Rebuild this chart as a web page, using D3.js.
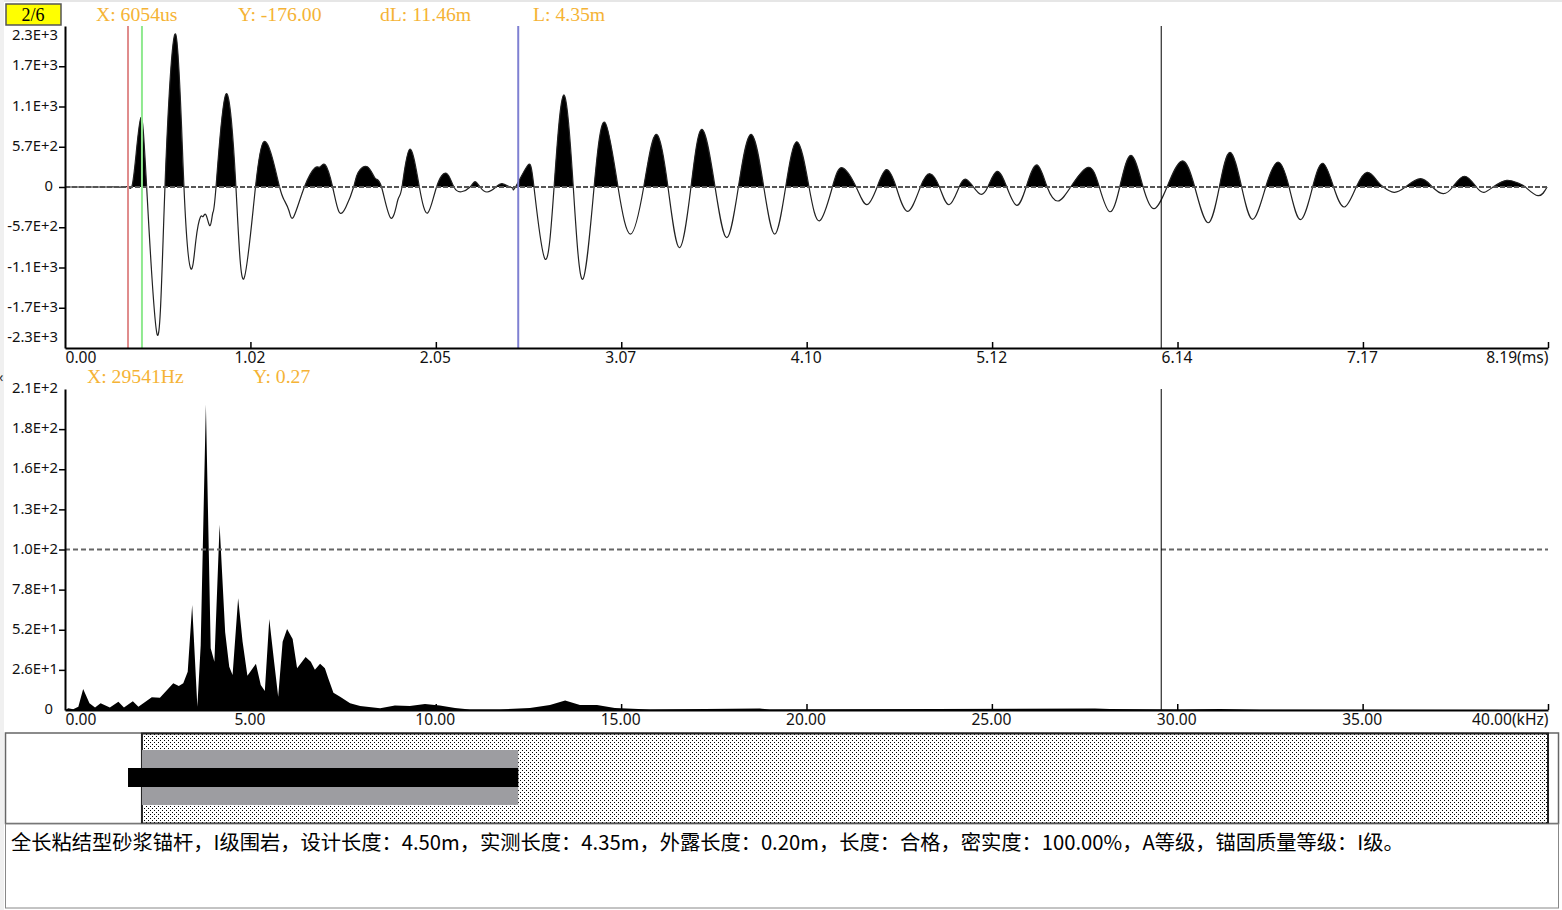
<!DOCTYPE html>
<html>
<head>
<meta charset="utf-8">
<script src="https://cdn.jsdelivr.net/npm/d3@7"></script>
<style>
  html, body { margin: 0; padding: 0; background: #fff; overflow: hidden; }
  svg { display: block; }
  .tick text { font-family: "Noto Sans", sans-serif; fill: #111; }
  .readout { font-family: "Liberation Serif", serif; font-size: 19.7px; fill: #f5b335; }
</style>
</head>
<body>
<div id="chart"></div>
<script>
// Time trace (ms, amplitude)
const waveTime = [0, 0.08, 0.16, 0.23, 0.28, 0.32, 0.348, 0.370, 0.392, 0.420, 0.451, 0.510, 0.552, 0.611, 0.657, 0.696, 0.723, 0.748, 0.762, 0.779, 0.801, 0.816, 0.834,
  0.889, 0.944, 0.987, 1.052, 1.098, 1.143, 1.185, 1.210, 1.237, 1.263, 1.322, 1.381, 1.408, 1.438, 1.478, 1.513, 1.552, 1.594,
  1.618, 1.670, 1.712, 1.748, 1.799, 1.838, 1.861, 1.904, 1.957, 2.003, 2.052, 2.106, 2.148, 2.189, 2.237, 2.264, 2.292, 2.331, 2.380,
  2.414, 2.458, 2.474, 2.488, 2.553, 2.590, 2.651, 2.701, 2.754, 2.807, 2.859, 2.922, 2.981, 3.054, 3.124, 3.196, 3.264, 3.330, 3.393, 3.457,
  3.518, 3.590, 3.655, 3.719, 3.789, 3.859, 3.920, 3.980, 4.043, 4.109, 4.168, 4.238, 4.293, 4.369, 4.428, 4.485, 4.536, 4.590, 4.654, 4.724,
  4.777, 4.829, 4.882, 4.938, 4.976, 5.017, 5.057, 5.096, 5.147, 5.201, 5.256, 5.308, 5.367, 5.424, 5.483, 5.554, 5.650, 5.712, 5.770, 5.825,
  5.887, 5.954, 6.015, 6.086, 6.168, 6.239, 6.312, 6.375, 6.434, 6.498, 6.560, 6.631, 6.699, 6.760, 6.823, 6.890, 6.947, 7.006, 7.066, 7.131,
  7.191, 7.243, 7.281, 7.340, 7.402, 7.486, 7.552, 7.611, 7.664, 7.729, 7.794, 7.837, 7.887, 7.962, 8.028, 8.065, 8.135, 8.185];
const waveAmp = [0, 0, 0, 0, 0, 0, 0, 14, 453, 984, 0, -2096, 0, 2166, 0, -1161, -750, -425, -420, -396, -548, -368, 0,
  1317, 0, -1303, 0, 641, 429, 0, -184, -336, -421, 0, 273, 283, 312, 0, -350, -279, 0,
  202, 287, 127, 0, -439, -184, 0, 534, 0, -368, 0, 194, 0, -67, 0, 75, 0, -71, 0,
  47, 0, -21, 0, 297, 0, -1020, 0, 1303, 0, -1307, 0, 916, 0, -666, 0, 746, 0, -860, 0,
  817, 0, -718, 0, 746, 0, -666, 0, 641, 0, -477, 0, 273, 0, -251, 0, 245, 0, -344, 0,
  188, 0, -251, 0, 109, 0, -103, 0, 222, 0, -259, 0, 312, 0, -198, 0, 279, 0, -350, 0,
  449, 0, -307, 0, 368, 0, -506, 0, 491, 0, -457, 0, 354, 0, -463, 0, 336, 0, -283, 0,
  208, 99, 0, -75, 0, 118, 0, -95, 0, 152, 0, -75, 0, 95, 52, 0, -123, 0];

// Spectrum (kHz, amplitude)
const specFreq = [0, 0.09, 0.22, 0.36, 0.49, 0.66, 0.81, 0.96, 1.21, 1.44, 1.59, 1.83, 1.98, 2.34, 2.56, 2.92, 3.07, 3.19, 3.31, 3.43, 3.57, 3.66,
  3.80, 3.93, 4.03, 4.17, 4.32, 4.43, 4.52, 4.67, 4.79, 4.92, 5.15, 5.28, 5.39, 5.51, 5.64, 5.75, 5.87, 5.99, 6.14, 6.26, 6.49, 6.63, 6.74, 6.88,
  7.01, 7.10, 7.24, 7.42, 7.69, 7.96, 8.50, 8.90, 9.30, 9.71, 10.11, 10.52, 10.92, 11.73, 12.54, 13.08, 13.49, 13.89, 14.35, 14.83, 15.78,
  18.74, 19.01, 27.78, 28.18, 30.07, 31.15, 32.23, 40];
const specAmp = [0, 1.1, 0.5, 2.1, 13.6, 4.3, 1.7, 4.3, 1.7, 5.4, 1.7, 5.6, 2.1, 8.2, 8.0, 17.3, 15.6, 17.3, 24.8, 68, 2.1, 42,
  198, 40, 31.3, 120, 50.4, 28, 22.7, 72.4, 44.3, 22.2, 30, 16.2, 12.3, 59, 31.3, 8.6, 44.3, 52.5, 46, 27, 34.3, 31.3, 26.1, 30,
  27, 20.5, 11.2, 8.6, 4.3, 2.6, 1.1, 2.9, 2.6, 3.9, 2.9, 1.3, 0.3, 0.3, 1.3, 3.2, 6.2, 3.2, 3.2, 1.3, 0.3,
  1.0, 0.3, 1.0, 0.6, 0.3, 0.6, 0.2, 0];

// Axis ticks and their labels
const timeTicks = [0, 1.024, 2.048, 3.072, 4.096, 5.12, 6.144, 7.168, 8.19];
const timeLabels = ["0.00", "1.02", "2.05", "3.07", "4.10", "5.12", "6.14", "7.17", "8.19(ms)"];
const waveTicks = [-2280, -1710, -1140, -570, 0, 570, 1140, 1710, 2280];
const waveLabels = ["-2.3E+3", "-1.7E+3", "-1.1E+3", "-5.7E+2", "0", "5.7E+2", "1.1E+3", "1.7E+3", "2.3E+3"];
const freqTicks = [0, 5, 10, 15, 20, 25, 30, 35, 40];
const freqLabels = ["0.00", "5.00", "10.00", "15.00", "20.00", "25.00", "30.00", "35.00", "40.00(kHz)"];
const specTicks = [0, 26, 52, 78, 104, 130, 156, 182, 208];
const specLabels = ["0", "2.6E+1", "5.2E+1", "7.8E+1", "1.0E+2", "1.3E+2", "1.6E+2", "1.8E+2", "2.1E+2"];

// Cursors in ms, and the text around the plots
const cursorStart = 0.348;
const cursorHead = 0.425;
const cursorEnd = 2.503;
const cursorTime = 6.054;
const specRef = 104;
const topReadouts = ["X: 6054us", "Y: -176.00", "dL: 11.46m", "L: 4.35m"];
const topReadoutX = [96, 238, 380, 533];
const lowReadouts = ["X: 29541Hz", "Y: 0.27"];
const lowReadoutX = [87, 253];
const summary = "全长粘结型砂浆锚杆，I级围岩，设计长度：4.50m，实测长度：4.35m，外露长度：0.20m，长度：合格，密实度：100.00%，A等级，锚固质量等级：I级。";

const width = 1562, height = 910;
const left = 65, right = 1548;

const svg = d3.select("#chart").append("svg")
  .attr("width", width)
  .attr("height", height);

// window chrome
svg.append("rect").attr("width", width).attr("height", 2).attr("fill", "#e6e6e6");
svg.append("rect").attr("width", 4).attr("height", height).attr("fill", "#f0f0f0");
svg.append("text").attr("x", -1).attr("y", 382).attr("font-size", 14).attr("fill", "#333")
  .attr("font-family", "Noto Sans").text("‹");

// badge
svg.append("rect").attr("x", 6).attr("y", 4).attr("width", 55).attr("height", 21)
  .attr("fill", "#ffff00").attr("stroke", "#555").attr("stroke-width", 1.5);
svg.append("text").attr("x", 33).attr("y", 21).attr("text-anchor", "middle")
  .attr("font-family", "Liberation Serif").attr("font-size", 18).attr("fill", "#000").text("2/6");

svg.selectAll(".top-readout").data(topReadouts).enter().append("text")
  .attr("class", "readout top-readout")
  .attr("x", (d, i) => topReadoutX[i]).attr("y", 21).text(d => d);
svg.selectAll(".low-readout").data(lowReadouts).enter().append("text")
  .attr("class", "readout low-readout")
  .attr("x", (d, i) => lowReadoutX[i]).attr("y", 383).text(d => d);

// scales
const xTime = d3.scaleLinear().domain([0, 8.19]).range([left, right]);
const yWave = d3.scaleLinear().domain([-2280, 2280]).range([348, 26]);
const xFreq = d3.scaleLinear().domain([0, 40]).range([left, right]);
const ySpec = d3.scaleLinear().domain([0, 208]).range([710, 389]);

// Same axis styling for both plots
function styleAxis(g) {
  g.selectAll("path.domain").attr("stroke", "#000").attr("stroke-width", 2);
  g.selectAll(".tick line").attr("stroke", "#000").attr("stroke-width", 1.5);
}

function drawBottomAxis(scale, ticks, labels, y) {
  const g = svg.append("g")
    .attr("transform", `translate(0,${y})`)
    .call(d3.axisBottom(scale).tickValues(ticks).tickFormat((d, i) => labels[i]).tickSizeInner(-6).tickSizeOuter(0).tickPadding(4))
    .call(styleAxis);
  g.selectAll(".tick text")
    .attr("font-size", 15.6)
    .attr("dx", (d, i) => i === 0 || i === ticks.length - 1 ? 0 : -1)
    .attr("text-anchor", (d, i) => i === 0 ? "start" : i === ticks.length - 1 ? "end" : "middle");
  g.select(".tick line").remove();
  return g;
}

function drawLeftAxis(scale, ticks, labels, topShift, bottomShift) {
  const g = svg.append("g")
    .attr("transform", `translate(${left},0)`)
    .call(d3.axisLeft(scale).tickValues(ticks).tickFormat((d, i) => labels[i]).tickSizeInner(6).tickSizeOuter(0).tickPadding(1))
    .call(styleAxis);
  g.selectAll(".tick text").attr("font-size", 14.8)
    .attr("dx", d => d === 0 ? -5 : 0)
    .attr("dy", "0.25em");
  const ticksSel = g.selectAll(".tick");
  ticksSel.filter((d, i) => i === ticks.length - 1).select("line").remove();
  ticksSel.filter((d, i) => i === ticks.length - 1).select("text").attr("dy", topShift);
  ticksSel.filter((d, i) => i === 0).select("line").remove();
  ticksSel.filter((d, i) => i === 0).select("text").attr("dy", bottomShift);
  return g;
}

// time trace: only the part above zero is filled
const wave = waveTime.map((t, i) => ({ t: t, v: waveAmp[i] }));
const curve = d3.curveNatural;

svg.append("clipPath").attr("id", "above-zero").append("rect")
  .attr("x", left).attr("y", yWave(2280))
  .attr("width", right - left).attr("height", yWave(0) - yWave(2280));

svg.append("path").datum(wave)
  .attr("clip-path", "url(#above-zero)")
  .attr("fill", "#000")
  .attr("d", d3.area().x(d => xTime(d.t)).y0(yWave(0)).y1(d => yWave(d.v)).curve(curve));

svg.append("path").datum(wave)
  .attr("fill", "none").attr("stroke", "#222").attr("stroke-width", 1.2)
  .attr("d", d3.line().x(d => xTime(d.t)).y(d => yWave(d.v)).curve(curve));

svg.append("line")
  .attr("x1", left).attr("x2", right).attr("y1", yWave(0)).attr("y2", yWave(0))
  .attr("stroke", "#555").attr("stroke-width", 2).attr("stroke-dasharray", "5,2");

// cursors on the time trace
const cursors = [[cursorStart, "#e08c8c"], [cursorHead, "#8fe98f"], [cursorEnd, "#7f80d2"]];
svg.selectAll(".cursor").data(cursors).enter().append("line")
  .attr("class", "cursor")
  .attr("x1", d => xTime(d[0])).attr("x2", d => xTime(d[0]))
  .attr("y1", yWave(2280)).attr("y2", yWave(-2280))
  .attr("stroke", d => d[1]).attr("stroke-width", 2);
svg.append("line")
  .attr("x1", xTime(cursorTime)).attr("x2", xTime(cursorTime))
  .attr("y1", yWave(2280)).attr("y2", yWave(-2280))
  .attr("stroke", "#000").attr("stroke-width", 1);

drawBottomAxis(xTime, timeTicks, timeLabels, 348);
drawLeftAxis(yWave, waveTicks, waveLabels, "0.9em", "-0.45em");

// spectrum
const spec = specFreq.map((f, i) => ({ f: f, v: specAmp[i] }));
svg.append("path").datum(spec)
  .attr("fill", "#000")
  .attr("d", d3.area().x(d => xFreq(d.f)).y0(ySpec(0)).y1(d => ySpec(d.v)));

svg.append("line")
  .attr("x1", left).attr("x2", right).attr("y1", ySpec(specRef)).attr("y2", ySpec(specRef))
  .attr("stroke", "#666").attr("stroke-width", 2).attr("stroke-dasharray", "5,3");

// the cursor stays at the same column in both plots
svg.append("line")
  .attr("x1", xTime(cursorTime)).attr("x2", xTime(cursorTime))
  .attr("y1", ySpec(208)).attr("y2", ySpec(0))
  .attr("stroke", "#000").attr("stroke-width", 1);

drawBottomAxis(xFreq, freqTicks, freqLabels, 710);
drawLeftAxis(ySpec, specTicks, specLabels, "0.25em", "0.25em");

// anchor schematic, positioned from the cursors
const pattern = svg.append("defs").append("pattern")
  .attr("id", "stipple").attr("width", 4).attr("height", 4)
  .attr("patternUnits", "userSpaceOnUse");
pattern.append("rect").attr("width", 4).attr("height", 4).attr("fill", "#fff");
pattern.append("rect").attr("x", 0).attr("y", 0).attr("width", 1).attr("height", 1).attr("fill", "#000");
pattern.append("rect").attr("x", 2).attr("y", 2).attr("width", 1).attr("height", 1).attr("fill", "#000");

svg.append("rect").attr("x", 5.5).attr("y", 733).attr("width", 1553).attr("height", 90.5)
  .attr("fill", "#fff").attr("stroke", "#666").attr("stroke-width", 1.5);
svg.append("rect").attr("x", xTime(cursorHead)).attr("y", 733.5).attr("width", xTime(8.19) - xTime(cursorHead)).attr("height", 90)
  .attr("fill", "url(#stipple)").attr("stroke", "#222").attr("stroke-width", 2);
svg.append("rect").attr("x", xTime(cursorHead)).attr("y", 750).attr("width", xTime(cursorEnd) - xTime(cursorHead)).attr("height", 55)
  .attr("fill", "#9d9da1");
svg.append("rect").attr("x", xTime(cursorStart)).attr("y", 768).attr("width", xTime(cursorEnd) - xTime(cursorStart)).attr("height", 19)
  .attr("fill", "#000");

// conclusion box
svg.append("rect").attr("x", 5.5).attr("y", 824).attr("width", 1553).attr("height", 84)
  .attr("fill", "#fff").attr("stroke", "#888").attr("stroke-width", 1);
svg.append("text").attr("x", 11).attr("y", 850)
  .attr("font-family", "'Noto Sans CJK SC', sans-serif").attr("font-size", 20.25).attr("fill", "#000")
  .text(summary);
</script>
</body>
</html>
